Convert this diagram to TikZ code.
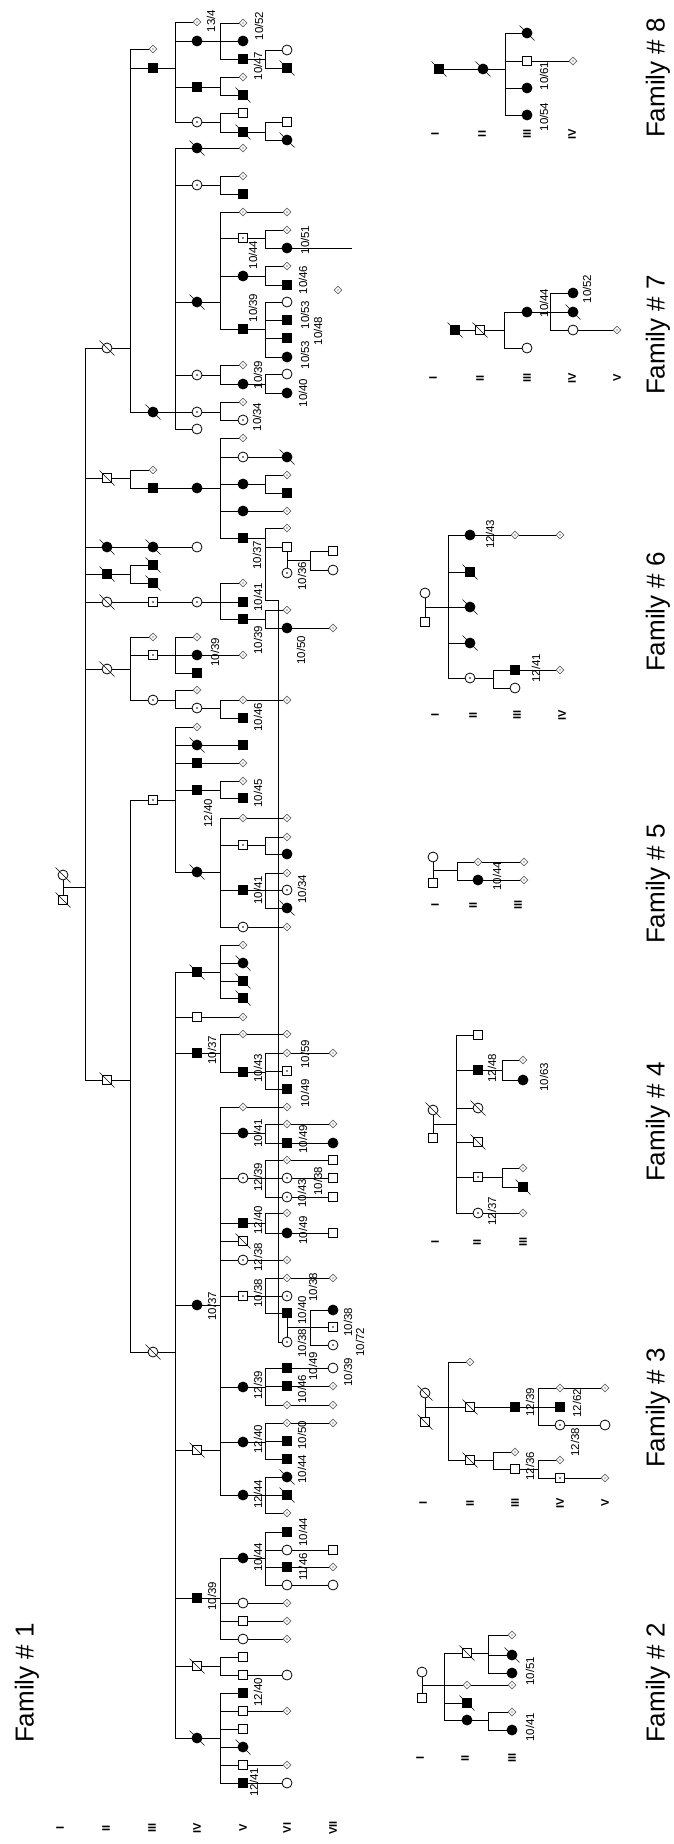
\documentclass[tikz,border=0pt]{standalone}
\usepackage{fontspec}
\setmainfont{Liberation Sans}
\usetikzlibrary{shapes.geometric,calc}
\newcommand\Pn[4]{\node[#2] (#1) at (#3,#4) {};}
\newcommand\kids[5]{\draw[ln] (#1) -- (#1 -| #2); \draw[ln] (#3 -| #2) -- (#4 -| #2); \foreach \c in {#5} {\draw[ln] (\c -| #2) -- (\c);}}
\newcommand\lnk[2]{\draw[ln] (#1) -- (#2);}
\newcommand\cpl[3]{\draw[ln] (#1) -- (#2); \coordinate (#3) at ($(#1)!.5!(#2)$);}
\newcommand\Lb[4]{\node[lbl] (#1) at (#2,#3) {#4};}
\newcommand\Rm[4]{\node[rom] (#1) at (#2,#3) {#4};}
\newcommand\dec[1]{\draw[slashst] ([shift={(-7.5,-7.5)}]#1.center) -- ([shift={(7.5,7.5)}]#1.center);}
\begin{document}
\begin{tikzpicture}[x=1pt,y=-1pt,
  ln/.style={line width=0.8},
  sym/.style={draw, line width=0.8, inner sep=0, fill=white},
  sq/.style={sym, rectangle, minimum size=9.5},
  sqA/.style={sq, fill=black},
  ci/.style={sym, circle, minimum size=10},
  ciA/.style={ci, fill=black},
  dotg/.style={path picture={\fill[black!45] (path picture bounding box.center) circle (0.8);}},
  dotb/.style={path picture={\fill[black] (path picture bounding box.center) circle (0.8);}},
  dm/.style={sym, diamond, minimum size=8, draw=black!60, line width=0.6, dotg},
  sqd/.style={sq, dotb}, cid/.style={ci, dotb},
  lbl/.style={rotate=90, font=\fontsize{11.5}{12}\selectfont, inner sep=0},
  rom/.style={rotate=90, font=\fontsize{11}{11}\selectfont\bfseries, inner sep=0},
  fam/.style={rotate=90, font=\fontsize{26}{26}\selectfont, inner sep=0},
  slashst/.style={line width=0.6}
]
\fill[white] (0,0) rectangle (674,1844);
\useasboundingbox (0,0) rectangle (674,1844);
% ---------------- Family 1 ----------------
\coordinate (X1) at (85,0);\coordinate (X2) at (130,0);\coordinate (X3) at (175,0);
\coordinate (X4) at (220,0);\coordinate (X5) at (265,0);\coordinate (X6) at (310,0);
% gen I
\Pn{a1}{ci}{63}{875}\Pn{a2}{sq}{63}{900}
% gen II
\Pn{b1}{ci}{107}{348}\Pn{b2}{sq}{107}{478}\Pn{b3}{ciA}{107}{547}\Pn{b4}{sqA}{107}{574}
\Pn{b5}{ci}{107}{602}\Pn{b6}{ci}{107}{669}\Pn{b7}{sq}{107}{1080}
% gen III
\Pn{c1}{dm}{153}{49}\Pn{c2}{sqA}{153}{68}\Pn{c3}{ciA}{153}{412}\Pn{c4}{dm}{153}{470}
\Pn{c5}{sqA}{153}{488}\Pn{c6}{ciA}{153}{547}\Pn{c7}{sqA}{153}{565}\Pn{c8}{sqA}{153}{583}
\Pn{c9}{sqd}{153}{602}\Pn{c10}{dm}{153}{637}\Pn{c11}{sqd}{153}{655}\Pn{c12}{cid}{153}{700}
\Pn{c13}{sqd}{153}{800}\Pn{c14}{ci}{153}{1352}
% gen IV
\Pn{d1}{dm}{197}{22}\Pn{d2}{ciA}{197}{41}\Pn{d3}{sqA}{197}{87}\Pn{d4}{cid}{197}{122}
\Pn{d5}{ciA}{197}{148}\Pn{d6}{cid}{197}{185}\Pn{d7}{ciA}{197}{302}\Pn{d8}{cid}{197}{375}
\Pn{d9}{cid}{197}{412}\Pn{d10}{ci}{197}{429}\Pn{d11}{ciA}{197}{488}\Pn{d12}{ci}{197}{547}
\Pn{d13}{cid}{197}{602}\Pn{d14}{dm}{197}{637}\Pn{d15}{ciA}{197}{655}\Pn{d16}{sqA}{197}{673}
\Pn{d17}{dm}{197}{690}\Pn{d18}{cid}{197}{708}\Pn{d19}{dm}{197}{727}\Pn{d20}{ciA}{197}{745}
\Pn{d21}{sqA}{197}{763}\Pn{d22}{sqA}{197}{790}\Pn{d23}{ciA}{197}{872}\Pn{d24}{sqA}{197}{972}
\Pn{d25}{sq}{197}{1017}\Pn{d26}{sqA}{197}{1053}\Pn{d27}{ciA}{197}{1305}\Pn{d28}{sq}{197}{1450}
\Pn{d29}{sqA}{197}{1598}\Pn{d30}{sq}{197}{1666}\Pn{d31}{ciA}{197}{1738}
% gen V
\Pn{e1}{dm}{243}{23}\Pn{e2}{ciA}{243}{41}\Pn{e3}{sqA}{243}{59}\Pn{e4}{dm}{243}{77}
\Pn{e5}{sqA}{243}{95}\Pn{e6}{sq}{243}{113}\Pn{e7}{sqA}{243}{132}\Pn{e8}{dm}{243}{148}
\Pn{e9}{dm}{243}{176}\Pn{e10}{sqA}{243}{194}\Pn{e11}{dm}{243}{212}\Pn{e12}{sqd}{243}{238}
\Pn{e13}{ciA}{243}{276}\Pn{e14}{sqA}{243}{329}\Pn{e15}{dm}{243}{365}\Pn{e16}{ciA}{243}{384}
\Pn{e17}{dm}{243}{402}\Pn{e18}{cid}{243}{420}\Pn{e19}{dm}{243}{438}\Pn{e20}{cid}{243}{457}
\Pn{e21}{ciA}{243}{484}\Pn{e22}{ciA}{243}{511}\Pn{e23}{sqA}{243}{538}\Pn{e24}{dm}{243}{583}
\Pn{e25}{sqA}{243}{602}\Pn{e26}{sqA}{243}{619}\Pn{e27}{dm}{243}{655}\Pn{e28}{dm}{243}{700}
\Pn{e29}{sqA}{243}{718}\Pn{e30}{sqA}{243}{745}\Pn{e31}{dm}{243}{763}\Pn{e32}{dm}{243}{781}
\Pn{e33}{sqA}{243}{798}\Pn{e34}{dm}{243}{818}\Pn{e35}{sqd}{243}{845}\Pn{e36}{sqA}{243}{890}
\Pn{e37}{cid}{243}{927}\Pn{e38}{dm}{243}{945}\Pn{e39}{ciA}{243}{963}\Pn{e40}{sqA}{243}{981}
\Pn{e41}{sqA}{243}{998}\Pn{e42}{dm}{243}{1017}\Pn{e43}{dm}{243}{1034}\Pn{e44}{sqA}{243}{1072}
\Pn{e45}{dm}{243}{1107}\Pn{e46}{ciA}{243}{1133}\Pn{e47}{cid}{243}{1178}\Pn{e48}{sqA}{243}{1223}
\Pn{e49}{sq}{243}{1241}\Pn{e50}{cid}{243}{1260}\Pn{e51}{sqd}{243}{1296}\Pn{e52}{ciA}{243}{1387}
\Pn{e53}{ciA}{243}{1442}\Pn{e54}{ciA}{243}{1495}\Pn{e55}{ciA}{243}{1558}\Pn{e56}{ci}{243}{1603}
\Pn{e57}{sq}{243}{1621}\Pn{e58}{ci}{243}{1639}\Pn{e59}{sq}{243}{1657}\Pn{e60}{sq}{243}{1675}
\Pn{e61}{sqA}{243}{1693}\Pn{e62}{sq}{243}{1711}\Pn{e63}{sq}{243}{1729}\Pn{e64}{ciA}{243}{1747}
\Pn{e65}{sq}{243}{1765}\Pn{e66}{sqA}{243}{1783}
% gen VI
\Pn{f1}{ci}{287}{50}\Pn{f2}{sqA}{287}{68}\Pn{f3}{sq}{287}{122}\Pn{f4}{ciA}{287}{140}
\Pn{f5}{dm}{287}{212}\Pn{f6}{dm}{287}{230}\Pn{f7}{ciA}{287}{248}\Pn{f8}{dm}{287}{266}
\Pn{f9}{sqA}{287}{285}\Pn{f10}{ci}{287}{302}\Pn{f11}{sqA}{287}{320}\Pn{f12}{sqA}{287}{338}
\Pn{f13}{ciA}{287}{357}\Pn{f14}{ci}{287}{374}\Pn{f15}{ciA}{287}{393}\Pn{f16}{ciA}{287}{457}
\Pn{f17}{dm}{287}{475}\Pn{f18}{sqA}{287}{493}\Pn{f19}{dm}{287}{511}\Pn{f20}{dm}{287}{528}
\Pn{f21}{sq}{287}{547}\Pn{f22}{cid}{287}{573}\Pn{f23}{dm}{287}{610}\Pn{f24}{ciA}{287}{628}
\Pn{f25}{dm}{287}{700}\Pn{f26}{dm}{287}{818}\Pn{f27}{dm}{287}{837}\Pn{f28}{ciA}{287}{854}
\Pn{f29}{dm}{287}{873}\Pn{f30}{cid}{287}{890}\Pn{f31}{ciA}{287}{908}\Pn{f32}{dm}{287}{927}
\Pn{f33}{dm}{287}{1034}\Pn{f34}{dm}{287}{1053}\Pn{f35}{sqd}{287}{1071}\Pn{f36}{sqA}{287}{1089}
\Pn{f37}{dm}{287}{1107}\Pn{f38}{dm}{287}{1124}\Pn{f39}{sqA}{287}{1143}\Pn{f40}{dm}{287}{1160}
\Pn{f41}{cid}{287}{1178}\Pn{f42}{cid}{287}{1197}\Pn{f43}{dm}{287}{1213}\Pn{f44}{ciA}{287}{1233}
\Pn{f45}{dm}{287}{1260}\Pn{f46}{dm}{287}{1278}\Pn{f47}{cid}{287}{1296}\Pn{f48}{sqA}{287}{1313}
\Pn{f49}{cid}{287}{1342}\Pn{f50}{sqA}{287}{1368}\Pn{f51}{sqA}{287}{1386}\Pn{f52}{dm}{287}{1405}
\Pn{f53}{dm}{287}{1423}\Pn{f54}{sqA}{287}{1441}\Pn{f55}{sqA}{287}{1459}\Pn{f56}{ciA}{287}{1477}
\Pn{f57}{sqA}{287}{1495}\Pn{f58}{dm}{287}{1513}\Pn{f59}{dm}{287}{1603}\Pn{f60}{dm}{287}{1621}
\Pn{f61}{dm}{287}{1639}\Pn{f62}{sqA}{287}{1532}\Pn{f63}{ci}{287}{1550}\Pn{f64}{sqA}{287}{1567}
\Pn{f65}{ci}{287}{1585}\Pn{f66}{ci}{287}{1675}\Pn{f67}{dm}{287}{1711}\Pn{f68}{dm}{287}{1765}
\Pn{f69}{ci}{287}{1783}
% gen VII
\Pn{g1}{sq}{333}{551}\Pn{g2}{ci}{333}{570}\Pn{g3}{dm}{333}{628}\Pn{g4}{dm}{333}{1053}
\Pn{g5}{dm}{333}{1124}\Pn{g6}{ciA}{333}{1143}\Pn{g7}{sq}{333}{1160}\Pn{g8}{sq}{333}{1178}
\Pn{g9}{sq}{333}{1197}\Pn{g10}{sq}{333}{1233}\Pn{g11}{dm}{333}{1278}\Pn{g12}{ciA}{333}{1310}
\Pn{g13}{sqd}{333}{1327}\Pn{g14}{cid}{333}{1345}\Pn{g15}{ci}{333}{1368}\Pn{g16}{dm}{333}{1386}
\Pn{g17}{dm}{333}{1405}\Pn{g18}{dm}{333}{1423}\Pn{g19}{sq}{333}{1550}\Pn{g20}{dm}{333}{1567}
\Pn{g21}{ci}{333}{1585}\Pn{g22}{dm}{338}{290}
\coordinate (f7e) at (352,248);
% connectors
\cpl{a1}{a2}{ma}
\kids{ma}{X1}{b1}{b7}{b1,b2,b3,b4,b5,b6,b7}
\kids{b1}{X2}{c1}{c3}{c1,c2,c3}
\kids{c2}{X3}{d1}{d4}{d1,d2,d3,d4}
\kids{d2}{X4}{e1}{e3}{e1,e2,e3}
\kids{e3}{X5}{f1}{f2}{f1,f2}
\kids{d3}{X4}{e4}{e5}{e4,e5}
\kids{d4}{X4}{e6}{e7}{e6,e7}
\kids{e7}{X5}{f3}{f4}{f3,f4}
\kids{c3}{X3}{d5}{d10}{d5,d6,d7,d8,d9,d10}
\lnk{d5}{e8}
\kids{d6}{X4}{e9}{e10}{e9,e10}
\kids{d7}{X4}{e11}{e14}{e11,e12,e13,e14}
\lnk{e11}{f5}
\kids{e12}{X5}{f6}{f7}{f6,f7}
\lnk{f7}{f7e}
\kids{e13}{X5}{f8}{f9}{f8,f9}
\kids{e14}{X5}{f10}{f13}{f10,f11,f12,f13}
\kids{d8}{X4}{e15}{e16}{e15,e16}
\kids{e16}{X5}{f14}{f15}{f14,f15}
\kids{d9}{X4}{e17}{e18}{e17,e18}
\kids{b2}{X2}{c4}{c5}{c4,c5}
\lnk{c5}{d11}
\kids{d11}{X4}{e19}{e23}{e19,e20,e21,e22,e23}
\lnk{e20}{f16}
\kids{e21}{X5}{f17}{f18}{f17,f18}
\lnk{e22}{f19}
\coordinate (J0) at (265,600);\coordinate (J1) at (278,600);
\draw[ln] (e23) -- (e23 -| X5);
\draw[ln] (f20 -| X5) -- (J0) -- (J1) -- (J1 |- f49) -- (f49);
\draw[ln] (f20 -| X5) -- (f20);
\draw[ln] (f21 -| X5) -- (f21);
\cpl{f21}{f22}{mf21}
\kids{mf21}{X6}{g1}{g2}{g1,g2}
\lnk{b3}{c6}\lnk{c6}{d12}
\kids{b4}{X2}{c7}{c8}{c7,c8}
\lnk{b5}{c9}\lnk{c9}{d13}
\kids{d13}{X4}{e24}{e26}{e24,e25,e26}
\kids{e26}{X5}{f23}{f24}{f23,f24}
\lnk{f24}{g3}
\kids{b6}{X2}{c10}{c12}{c10,c11,c12}
\kids{c11}{X3}{d14}{d16}{d14,d15,d16}
\lnk{d15}{e27}
\kids{c12}{X3}{d17}{d18}{d17,d18}
\kids{d18}{X4}{e28}{e29}{e28,e29}
\lnk{e28}{f25}
\kids{b7}{X2}{c13}{c14}{c13,c14}
\kids{c13}{X3}{d19}{d23}{d19,d20,d21,d22,d23}
\lnk{d20}{e30}\lnk{d21}{e31}
\kids{d22}{X4}{e32}{e33}{e32,e33}
\kids{d23}{X4}{e34}{e37}{e34,e35,e36,e37}
\lnk{e34}{f26}
\kids{e35}{X5}{f27}{f28}{f27,f28}
\kids{e36}{X5}{f29}{f31}{f29,f30,f31}
\lnk{e37}{f32}
\kids{c14}{X3}{d24}{d31}{d24,d25,d26,d27,d28,d29,d30,d31}
\kids{d24}{X4}{e38}{e41}{e38,e39,e40,e41}
\lnk{d25}{e42}
\kids{d26}{X4}{e43}{e44}{e43,e44}
\lnk{e43}{f33}
\kids{e44}{X5}{f34}{f36}{f34,f35,f36}
\lnk{f34}{g4}
\kids{d27}{X4}{e45}{d27}{e45,e46,e47,e48,e49,e50,e51}
\draw[ln] (d27 -| X4) -- (e52 -| X4);
\lnk{e45}{f37}
\kids{e46}{X5}{f38}{f39}{f38,f39}
\lnk{f38}{g5}\lnk{f39}{g6}
\kids{e47}{X5}{f40}{f42}{f40,f41,f42}
\lnk{f40}{g7}\lnk{f41}{g8}\lnk{f42}{g9}
\kids{e48}{X5}{f43}{f44}{f43,f44}
\lnk{f44}{g10}
\lnk{e50}{f45}
\kids{e51}{X5}{f46}{f48}{f46,f47,f48}
\lnk{f46}{g11}
\cpl{f48}{f49}{mf48}
\kids{mf48}{X6}{g12}{g14}{g12,g13,g14}
\kids{d28}{X4}{e52}{e54}{e52,e53,e54}
\kids{e52}{X5}{f50}{f52}{f50,f51,f52}
\lnk{f50}{g15}\lnk{f51}{g16}\lnk{f52}{g17}
\kids{e53}{X5}{f53}{f55}{f53,f54,f55}
\lnk{f53}{g18}
\kids{e54}{X5}{f56}{f58}{f56,f57,f58}
\kids{d29}{X4}{e55}{e58}{e55,e56,e57,e58}
\lnk{e56}{f59}\lnk{e57}{f60}\lnk{e58}{f61}
\kids{e55}{X5}{f62}{f65}{f62,f63,f64,f65}
\lnk{f63}{g19}\lnk{f64}{g20}\lnk{f65}{g21}
\kids{d30}{X4}{e59}{e60}{e59,e60}
\lnk{e60}{f66}
\kids{d31}{X4}{e61}{e66}{e61,e62,e63,e64,e65,e66}
\lnk{e62}{f67}\lnk{e65}{f68}\lnk{e66}{f69}
\foreach \n in {a1,a2,b1,b2,b3,b4,b5,b6,b7,c3,c6,c7,c8,c14,d5,d7,d20,d23,d24,d28,d30,d31,e5,e7,e39,e40,e41,e49,e64,f2,f4,f16,f31,f56,f57} {\dec{\n}}
% labels family 1
\Lb{L1}{211}{21}{13/4}\Lb{L2}{259}{26}{10/52}\Lb{L3}{258}{66}{10/47}
\Lb{L4}{253}{255}{10/44}\Lb{L5}{305}{240}{10/51}\Lb{L6}{303}{280}{10/46}
\Lb{L7}{253}{308}{10/39}\Lb{L8}{305}{315}{10/53}\Lb{L9}{318}{331}{10/48}
\Lb{L10}{305}{355}{10/53}\Lb{L11}{258}{375}{10/39}\Lb{L12}{303}{393}{10/40}
\Lb{L13}{257}{417}{10/34}\Lb{L14}{257}{555}{10/37}\Lb{L15}{302}{576}{10/36}
\Lb{L16}{258}{597}{10/41}\Lb{L17}{258}{640}{10/39}\Lb{L18}{301}{650}{10/50}
\Lb{L19}{215}{652}{10/39}\Lb{L20}{258}{717}{10/46}\Lb{L21}{208}{813}{12/40}
\Lb{L22}{258}{793}{10/45}\Lb{L23}{258}{890}{10/41}\Lb{L24}{302}{889}{10/34}
\Lb{L25}{212}{1050}{10/37}\Lb{L26}{258}{1068}{10/43}\Lb{L27}{305}{1054}{10/59}
\Lb{L28}{305}{1093}{10/49}\Lb{L29}{258}{1133}{10/41}\Lb{L30}{303}{1139}{10/49}
\Lb{L31}{258}{1177}{12/39}\Lb{L32}{318}{1181}{10/38}\Lb{L33}{302}{1193}{10/43}
\Lb{L34}{258}{1220}{12/40}\Lb{L35}{303}{1230}{10/49}\Lb{L36}{258}{1257}{12/38}
\Lb{L37}{258}{1293}{10/38}\Lb{L38}{313}{1287}{10/38}\Lb{L39}{302}{1310}{10/40}
\Lb{L40}{302}{1343}{10/38}\Lb{L41}{313}{1366}{10/49}\Lb{L42}{302}{1389}{10/46}
\Lb{L43}{212}{1306}{10/37}\Lb{L44}{258}{1385}{12/39}\Lb{L45}{258}{1439}{12/40}
\Lb{L46}{302}{1435}{10/50}\Lb{L47}{302}{1469}{10/44}\Lb{L48}{258}{1494}{12/44}
\Lb{L49}{258}{1557}{10/44}\Lb{L50}{212}{1596}{10/39}\Lb{L51}{303}{1532}{10/44}
\Lb{L52}{303}{1567}{11/46}\Lb{L53}{258}{1692}{12/40}\Lb{L54}{254}{1782}{12/41}
\Lb{L55}{348}{1322}{10/38}\Lb{L56}{360}{1342}{10/72}\Lb{L57}{348}{1372}{10/39}
\Rm{R1}{60}{1828}{I}\Rm{R2}{106}{1828}{II}\Rm{R3}{152}{1828}{III}\Rm{R4}{197}{1828}{IV}
\Rm{R5}{243}{1828}{V}\Rm{R6}{287}{1828}{VI}\Rm{R7}{333}{1828}{VII}
\node[fam] (F1) at (27,1683) {Family \# 1};
% ---------------- Family 8 ----------------
\Pn{h1}{sqA}{439}{69}\Pn{h2}{ciA}{483}{69}\Pn{h3}{ciA}{527}{33}\Pn{h4}{sq}{527}{61}
\Pn{h5}{ciA}{527}{88}\Pn{h6}{ciA}{527}{115}\Pn{h7}{dm}{573}{61}
\coordinate (H1) at (505,0);
\lnk{h1}{h2}
\kids{h2}{H1}{h3}{h6}{h3,h4,h5,h6}
\lnk{h4}{h7}
\foreach \n in {h1,h2,h3} {\dec{\n}}
\Lb{L61}{544}{76}{10/61}\Lb{L62}{544}{117}{10/54}
\Rm{R81}{435}{134}{I}\Rm{R82}{482}{134}{II}\Rm{R83}{527}{134}{III}\Rm{R84}{572}{134}{IV}
\node[fam] (F8) at (658,78) {Family \# 8};
% ---------------- Family 7 ----------------
\Pn{k1}{sqA}{455}{330}\Pn{k2}{sq}{480}{330}\Pn{k3}{ciA}{527}{312}\Pn{k4}{ci}{527}{348}
\Pn{k5}{ciA}{573}{293}\Pn{k6}{ciA}{573}{312}\Pn{k7}{ci}{573}{330}\Pn{k8}{dm}{617}{330}
\coordinate (K1) at (504,0);\coordinate (K2) at (550,0);
\lnk{k1}{k2}
\kids{k2}{K1}{k3}{k4}{k3,k4}
\kids{k3}{K2}{k5}{k7}{k5,k6,k7}
\lnk{k7}{k8}
\foreach \n in {k1,k2,k6} {\dec{\n}}
\Lb{L71}{544}{303}{10/44}\Lb{L72}{587}{289}{10/52}
\Rm{R71}{433}{378}{I}\Rm{R72}{480}{378}{II}\Rm{R73}{527}{378}{III}\Rm{R74}{572}{378}{IV}\Rm{R75}{617}{378}{V}
\node[fam] (F7) at (658,335) {Family \# 7};
% ---------------- Family 6 ----------------
\Pn{p1}{ci}{425}{593}\Pn{p2}{sq}{425}{622}\Pn{p3}{ciA}{470}{535}\Pn{p4}{sqA}{470}{572}
\Pn{p5}{ciA}{470}{607}\Pn{p6}{ciA}{470}{643}\Pn{p7}{cid}{470}{678}\Pn{p8}{dm}{515}{535}
\Pn{p9}{dm}{560}{535}\Pn{p10}{sqA}{515}{670}\Pn{p11}{ci}{515}{688}\Pn{p12}{dm}{560}{670}
\coordinate (P1) at (448,0);\coordinate (P2) at (493,0);
\cpl{p1}{p2}{mp}
\kids{mp}{P1}{p3}{p7}{p3,p4,p5,p6,p7}
\lnk{p3}{p8}\lnk{p8}{p9}
\kids{p7}{P2}{p10}{p11}{p10,p11}
\lnk{p10}{p12}
\foreach \n in {p4,p5,p6} {\dec{\n}}
\Lb{L63}{490}{534}{12/43}\Lb{L64}{536}{668}{12/41}
\Rm{R61}{435}{715}{I}\Rm{R62}{473}{715}{II}\Rm{R63}{517}{715}{III}\Rm{R64}{562}{715}{IV}
\node[fam] (F6) at (658,612) {Family \# 6};
% ---------------- Family 5 ----------------
\Pn{q1}{ci}{433}{857}\Pn{q2}{sq}{433}{883}\Pn{q3}{dm}{478}{862}\Pn{q4}{dm}{524}{862}
\Pn{q5}{ciA}{478}{880}\Pn{q6}{dm}{524}{880}
\coordinate (Q1) at (457,0);
\cpl{q1}{q2}{mq}
\kids{mq}{Q1}{q3}{q5}{q3,q5}
\lnk{q3}{q4}\lnk{q5}{q6}
\Lb{L51b}{497}{876}{10/44}
\Rm{R51}{435}{905}{I}\Rm{R52}{473}{905}{II}\Rm{R53}{518}{905}{III}
\node[fam] (F5) at (658,884) {Family \# 5};
% ---------------- Family 4 ----------------
\Pn{r1}{ci}{433}{1110}\Pn{r2}{sq}{433}{1138}\Pn{r3}{sq}{478}{1035}\Pn{r4}{sqA}{478}{1070}
\Pn{r5}{ci}{478}{1108}\Pn{r6}{sq}{478}{1142}\Pn{r7}{sqd}{478}{1177}\Pn{r8}{cid}{478}{1213}
\Pn{r9}{dm}{523}{1060}\Pn{r10}{ciA}{523}{1080}\Pn{r11}{dm}{523}{1168}\Pn{r12}{sqA}{523}{1187}
\Pn{r13}{dm}{523}{1213}
\coordinate (RR1) at (456,0);\coordinate (RR2) at (502,0);
\cpl{r1}{r2}{mr}
\kids{mr}{RR1}{r3}{r8}{r3,r4,r5,r6,r7,r8}
\kids{r4}{RR2}{r9}{r10}{r9,r10}
\kids{r7}{RR2}{r11}{r12}{r11,r12}
\lnk{r8}{r13}
\foreach \n in {r1,r5,r6,r12} {\dec{\n}}
\Lb{L41b}{492}{1068}{12/48}\Lb{L42b}{544}{1077}{10/63}\Lb{L43b}{492}{1211}{12/37}
\Rm{R41}{435}{1242}{I}\Rm{R42}{477}{1242}{II}\Rm{R43}{523}{1242}{III}
\node[fam] (F4) at (658,1122) {Family \# 4};
% ---------------- Family 3 ----------------
\Pn{s1}{ci}{425}{1393}\Pn{s2}{sq}{425}{1422}\Pn{s3}{dm}{470}{1362}\Pn{s4}{sq}{470}{1407}
\Pn{s5}{sq}{470}{1460}\Pn{s6}{sqA}{515}{1407}\Pn{s7}{dm}{560}{1388}\Pn{s8}{sqA}{560}{1407}
\Pn{s9}{cid}{560}{1425}\Pn{s10}{dm}{605}{1388}\Pn{s11}{ci}{605}{1425}\Pn{s12}{dm}{515}{1452}
\Pn{s13}{sq}{515}{1469}\Pn{s14}{dm}{560}{1460}\Pn{s15}{sqd}{560}{1478}\Pn{s16}{dm}{605}{1478}
\coordinate (S31) at (448,0);\coordinate (S32) at (493,0);\coordinate (S33) at (538,0);
\cpl{s1}{s2}{ms}
\kids{ms}{S31}{s3}{s5}{s3,s4,s5}
\lnk{s4}{s6}
\kids{s6}{S33}{s7}{s9}{s7,s8,s9}
\lnk{s7}{s10}\lnk{s9}{s11}
\kids{s5}{S32}{s12}{s13}{s12,s13}
\kids{s13}{S33}{s14}{s15}{s14,s15}
\lnk{s15}{s16}
\foreach \n in {s1,s2,s4,s5} {\dec{\n}}
\Lb{L31b}{530}{1402}{12/39}\Lb{L32b}{577}{1403}{12/62}\Lb{L33b}{575}{1442}{12/38}\Lb{L34b}{530}{1466}{12/36}
\Rm{R31}{423}{1503}{I}\Rm{R32}{470}{1503}{II}\Rm{R33}{515}{1503}{III}\Rm{R34}{560}{1503}{IV}\Rm{R35}{605}{1503}{V}
\node[fam] (F3) at (658,1408) {Family \# 3};
% ---------------- Family 2 ----------------
\Pn{t1}{ci}{422}{1672}\Pn{t2}{sq}{422}{1698}\Pn{t3}{sq}{467}{1653}\Pn{t4}{dm}{467}{1685}
\Pn{t5}{sqA}{467}{1703}\Pn{t6}{ciA}{467}{1720}\Pn{t7}{dm}{512}{1635}\Pn{t8}{ciA}{512}{1655}
\Pn{t9}{ciA}{512}{1673}\Pn{t10}{dm}{512}{1685}\Pn{t11}{dm}{512}{1712}\Pn{t12}{ciA}{512}{1730}
\coordinate (U1) at (444,0);\coordinate (U2) at (488,0);
\cpl{t1}{t2}{mt}
\kids{mt}{U1}{t3}{t6}{t3,t4,t5,t6}
\kids{t3}{U2}{t7}{t9}{t7,t8,t9}
\lnk{t4}{t10}
\kids{t6}{U2}{t11}{t12}{t11,t12}
\foreach \n in {t3,t5,t8} {\dec{\n}}
\Lb{L21b}{530}{1671}{10/51}\Lb{L22b}{530}{1727}{10/41}
\Rm{R21}{420}{1758}{I}\Rm{R22}{465}{1758}{II}\Rm{R23}{512}{1758}{III}
\node[fam] (F2) at (658,1683) {Family \# 2};
\end{tikzpicture}
\end{document}
